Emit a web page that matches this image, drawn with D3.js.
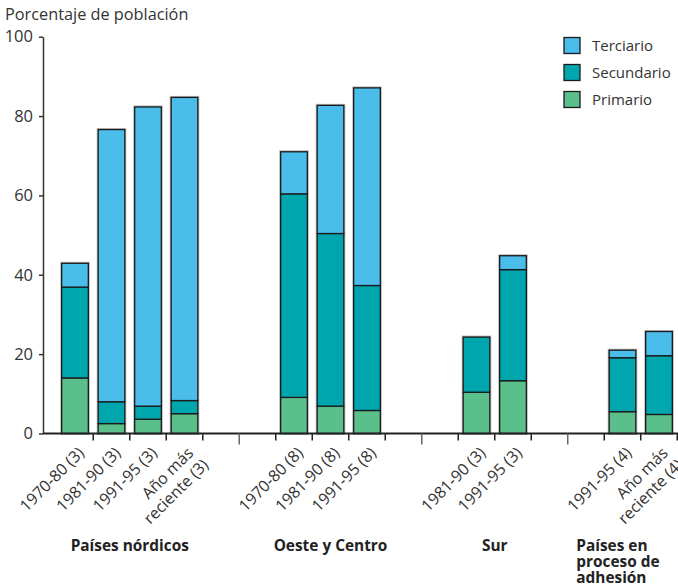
<!DOCTYPE html>
<html>
<head>
<meta charset="utf-8">
<script src="https://cdn.jsdelivr.net/npm/d3@7"></script>
<style>
  html, body { margin: 0; padding: 0; background: #fff; }
  svg { display: block; font-family: "Open Sans", sans-serif; }
</style>
</head>
<body>
<div id="chart"></div>
<script>
// ---- data ----
const categories = ["1970-80 (3)", "1981-90 (3)", "1991-95 (3)", "Año más\nreciente (3)",
                    "1970-80 (8)", "1981-90 (8)", "1991-95 (8)",
                    "1981-90 (3)", "1991-95 (3)",
                    "1991-95 (4)", "Año más\nreciente (4)"];
const categoryGroup = [0, 0, 0, 0, 1, 1, 1, 2, 2, 3, 3];
const groups = ["Países nórdicos", "Oeste y Centro", "Sur", "Países en\nproceso de\nadhesión"];
const primario   = [14.0, 2.5, 3.6, 5.0, 9.1, 6.9, 5.8, 10.4, 13.3, 5.5, 4.8];
const secundario = [22.9, 5.5, 3.3, 3.3, 51.3, 43.5, 31.5, 13.9, 28.0, 13.6, 14.8];
const terciario  = [6.0, 68.6, 75.4, 76.4, 10.6, 32.3, 49.8, 0.0, 3.5, 1.9, 6.1];
const seriesNames = ["Primario", "Secundario", "Terciario"];
const seriesColors = ["#5bbf8b", "#00a6ae", "#4bbdeb"];
const yTicks = [0, 20, 40, 60, 80, 100];
const yTitle = "Porcentaje de población";

// ---- layout ----
const W = 678, H = 587;
const svg = d3.select("#chart").append("svg").attr("width", W).attr("height", H);

const slots = [];
categories.forEach((c, i) => {
  if (i > 0 && categoryGroup[i] !== categoryGroup[i - 1]) {
    slots.push("gap" + i + "a", "gap" + i + "b");
  }
  slots.push("c" + i);
});

const x = d3.scaleBand().domain(slots).range([56.75, 677.25]).paddingInner(0.27).paddingOuter(0.135);
const y = d3.scaleLinear().domain([0, 100]).range([433.5, 36.7]);
const step = x.step();
const half = (step - x.bandwidth()) / 2;

const table = categories.map((c, i) => ({ key: "c" + i, Primario: primario[i], Secundario: secundario[i], Terciario: terciario[i] }));
const stacked = d3.stack().keys(seriesNames)(table);

// bar halo
svg.append("g").selectAll("rect").data(table).join("rect")
  .attr("x", d => x(d.key))
  .attr("width", x.bandwidth())
  .attr("y", d => y(d.Primario + d.Secundario + d.Terciario))
  .attr("height", d => y(0) - y(d.Primario + d.Secundario + d.Terciario))
  .attr("fill", "none").attr("stroke", "#bbb").attr("stroke-width", 3);

// bars
svg.append("g").selectAll("g").data(stacked).join("g")
  .attr("fill", (d, i) => seriesColors[i])
  .selectAll("rect").data(d => d).join("rect")
  .attr("x", d => x(d.data.key))
  .attr("width", x.bandwidth())
  .attr("y", d => y(d[1]))
  .attr("height", d => y(d[0]) - y(d[1]))
  .attr("stroke", "#1a1a1a").attr("stroke-width", 1.3);

// y axis
const yAxis = svg.append("g").attr("transform", "translate(43,0)")
  .call(d3.axisLeft(y).tickValues(yTicks).tickSize(4).tickSizeOuter(0).tickPadding(6));
yAxis.select(".domain").attr("stroke", "#333").attr("stroke-width", 1.5);
yAxis.selectAll(".tick line").attr("stroke", "#333").attr("stroke-width", 1.5);
yAxis.selectAll(".tick text").attr("font-size", 16.5).attr("fill", "#333")
  .attr("font-family", "'Open Sans', sans-serif");

// x baseline
svg.append("line").attr("x1", 43).attr("x2", 678).attr("y1", y(0)).attr("y2", y(0))
  .attr("stroke", "#222").attr("stroke-width", 1.8);

// x ticks at right edge of each slot
svg.append("g").selectAll("line").data(slots).join("line")
  .attr("x1", d => x(d) - half + step).attr("x2", d => x(d) - half + step)
  .attr("y1", y(0)).attr("y2", (d) => d.endsWith("a") ? y(0) + 11 : y(0) + 7)
  .attr("stroke", d => d.endsWith("a") ? "#666" : "#222").attr("stroke-width", 1.5);

// rotated category labels
const lab = svg.append("g").selectAll("g").data(categories).join("g")
  .attr("transform", (d, i) => `translate(${x("c" + i) + x.bandwidth() / 2 + 10},454) rotate(-45)`);
lab.selectAll("text").data(d => d.split("\n")).join("text")
  .attr("y", (d, j) => j * 19)
  .attr("x", (d, j) => j * 2)
  .attr("text-anchor", "end")
  .attr("font-size", 16).attr("fill", "#333")
  .text(d => d);

// group labels
groups.forEach((g, gi) => {
  const idx = categoryGroup.map((v, i) => v === gi ? i : -1).filter(i => i >= 0);
  const first = x("c" + idx[0]), last = x("c" + idx[idx.length - 1]) + x.bandwidth();
  const center = (first + last) / 2;
  const lines = g.split("\n");
  const multi = lines.length > 1;
  const t = svg.append("text")
    .attr("x", multi ? center - 64.5 : center)
    .attr("y", 551)
    .attr("text-anchor", multi ? "start" : "middle")
    .attr("font-size", 15.4).attr("font-weight", "bold").attr("fill", "#222");
  lines.forEach((l, j) => t.append("tspan").attr("x", multi ? center - 64.5 : center).attr("dy", j ? 16 : 0).text(l));
});

// y title
svg.append("text").attr("x", 5).attr("y", 20).attr("font-size", 16.3).attr("fill", "#333").text(yTitle);

// legend
const legendOrder = [2, 1, 0];
const leg = svg.append("g").selectAll("g").data(legendOrder).join("g")
  .attr("transform", (d, k) => `translate(564,${37.5 + k * 27})`);
leg.append("rect").attr("width", 16).attr("height", 16)
  .attr("fill", d => seriesColors[d]).attr("stroke", "#1a1a1a").attr("stroke-width", 1.3);
leg.append("text").attr("x", 28).attr("y", 13.5).attr("font-size", 15).attr("fill", "#333")
  .text(d => seriesNames[d]);
</script>
</body>
</html>
